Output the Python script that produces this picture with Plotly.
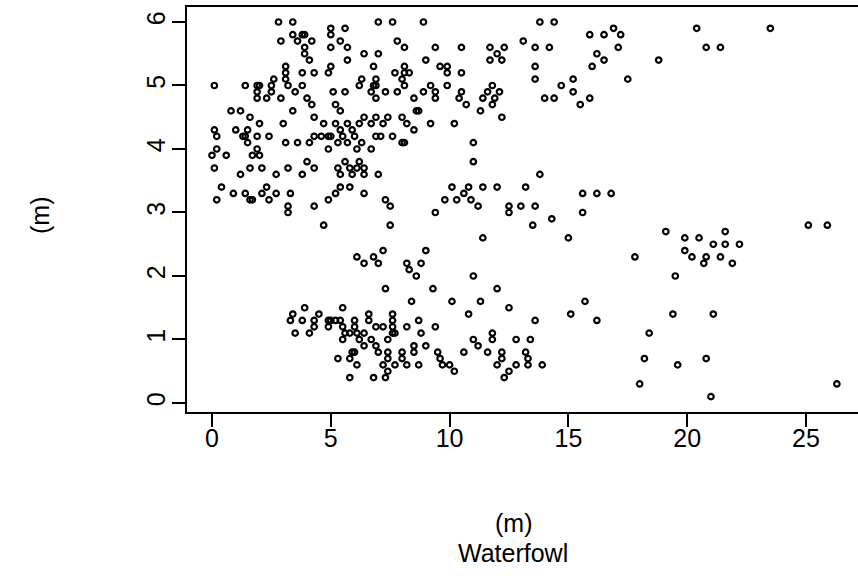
import plotly.graph_objects as go

# Observed positions (m), grouped by area of the survey plot
upper_left = [
    (2.8, 6.0), (3.4, 6.0), (5.0, 5.9), (3.4, 5.8), (3.8, 5.8), (3.9, 5.8), (5.0, 5.8),
    (2.9, 5.7), (3.6, 5.7), (4.2, 5.7), (3.9, 5.6), (5.0, 5.6), (3.9, 5.5), (4.1, 5.4),
    (3.1, 5.3), (5.0, 5.3), (3.1, 5.2), (3.8, 5.2), (4.3, 5.2), (4.9, 5.2), (2.6, 5.1),
    (3.1, 5.1), (0.1, 5.0), (1.4, 5.0), (1.9, 5.0), (2.0, 5.0), (2.5, 5.0), (3.2, 5.0),
    (3.8, 5.0), (1.9, 4.9), (2.5, 4.9), (3.5, 4.9), (5.1, 4.9), (1.9, 4.8), (2.3, 4.8),
    (2.9, 4.8), (4.0, 4.8), (4.2, 4.7), (5.2, 4.7), (0.8, 4.6), (1.2, 4.6), (3.4, 4.6),
    (1.6, 4.5), (4.3, 4.5), (2.0, 4.4), (3.0, 4.4), (4.7, 4.4), (5.2, 4.4), (0.1, 4.3),
    (1.0, 4.3), (1.5, 4.3), (0.2, 4.2), (1.3, 4.2), (1.4, 4.2), (1.9, 4.2), (2.4, 4.2),
    (4.3, 4.2), (4.6, 4.2), (4.9, 4.2), (5.0, 4.2), (1.5, 4.1), (3.1, 4.1), (3.6, 4.1),
    (4.1, 4.1),
]

mid_left = [
    (0.2, 4.0), (0.0, 3.9), (0.6, 3.9), (1.9, 4.0), (1.7, 3.9), (2.0, 3.9), (4.9, 4.0),
    (0.1, 3.7), (1.2, 3.6), (1.6, 3.7), (2.1, 3.7), (2.7, 3.6), (3.2, 3.7), (3.8, 3.6),
    (4.0, 3.8), (4.3, 3.7), (0.4, 3.4), (0.2, 3.2), (0.9, 3.3), (1.4, 3.3), (1.6, 3.2),
    (1.7, 3.2), (2.1, 3.3), (2.3, 3.4), (2.4, 3.2), (2.7, 3.3), (3.3, 3.3), (3.2, 3.1),
    (3.2, 3.0), (4.3, 3.1), (4.9, 3.2), (5.2, 3.3), (4.7, 2.8),
]

low_left = [
    (3.9, 1.5), (3.4, 1.4), (4.5, 1.4), (3.3, 1.3), (3.8, 1.3), (4.3, 1.3), (4.9, 1.3),
    (5.0, 1.3), (4.3, 1.2), (4.9, 1.2), (3.5, 1.1), (4.1, 1.1), (5.3, 0.7),
]

upper_centre = [
    (7.0, 6.0), (7.6, 6.0), (8.9, 6.0), (5.6, 5.9), (5.4, 5.7), (7.8, 5.7), (5.7, 5.6),
    (8.1, 5.6), (9.4, 5.6), (10.5, 5.6), (6.4, 5.5), (7.0, 5.5), (5.7, 5.4), (9.0, 5.4),
    (6.8, 5.3), (8.1, 5.3), (9.6, 5.3), (9.9, 5.3), (7.7, 5.2), (8.1, 5.2), (8.3, 5.2),
    (9.9, 5.2), (10.5, 5.2), (6.3, 5.1), (6.9, 5.1), (8.0, 5.1), (6.2, 5.0), (6.8, 5.0),
    (6.9, 5.0), (8.1, 5.0), (9.2, 5.0), (9.9, 5.0), (5.6, 4.9), (6.7, 4.9), (7.3, 4.9),
    (7.8, 4.9), (8.9, 4.9), (9.4, 4.9), (10.5, 4.9), (6.9, 4.8), (8.5, 4.8), (9.4, 4.8),
    (10.4, 4.8), (10.7, 4.7), (5.4, 4.6), (8.6, 4.6), (8.7, 4.6), (6.4, 4.5), (6.9, 4.5),
    (7.4, 4.5), (8.0, 4.5), (5.7, 4.4), (6.2, 4.4), (6.7, 4.4), (7.2, 4.4), (8.2, 4.4),
    (9.2, 4.4), (10.2, 4.4), (5.4, 4.3), (5.9, 4.3), (8.5, 4.3), (5.5, 4.2), (6.0, 4.2),
    (6.9, 4.2), (7.1, 4.2), (7.6, 4.2), (8.0, 4.1), (8.1, 4.1), (5.3, 4.1), (5.7, 4.1),
    (6.3, 4.1), (6.7, 4.0), (11.0, 4.1),
]

mid_centre = [
    (6.1, 4.0), (5.6, 3.8), (6.2, 3.8), (5.3, 3.7), (5.8, 3.7), (6.1, 3.7), (6.4, 3.7),
    (5.4, 3.6), (5.9, 3.6), (6.4, 3.6), (7.0, 3.6), (5.4, 3.4), (5.8, 3.4), (6.4, 3.3),
    (7.3, 3.2), (7.5, 3.1), (9.4, 3.0), (9.8, 3.2), (10.3, 3.2), (10.1, 3.4), (10.6, 3.3),
    (7.5, 2.8), (7.2, 2.4), (9.0, 2.4), (6.1, 2.3), (6.8, 2.3), (6.4, 2.2), (7.0, 2.2),
    (8.2, 2.2), (8.8, 2.2), (8.3, 2.1), (8.6, 2.0), (11.0, 3.8),
]

low_centre = [
    (7.3, 1.8), (9.3, 1.8), (8.4, 1.6), (10.1, 1.6), (5.5, 1.5), (10.8, 1.4), (6.6, 1.4),
    (7.6, 1.4), (5.2, 1.3), (5.4, 1.3), (6.0, 1.3), (6.6, 1.3), (7.6, 1.3), (8.7, 1.3),
    (5.5, 1.2), (6.0, 1.2), (6.9, 1.2), (7.2, 1.2), (7.6, 1.2), (8.2, 1.2), (9.4, 1.2),
    (5.6, 1.1), (5.8, 1.1), (6.1, 1.1), (6.4, 1.1), (7.6, 1.1), (7.7, 1.1), (8.8, 1.1),
    (5.5, 1.0), (6.2, 1.0), (6.7, 1.0), (7.4, 1.0), (6.4, 0.9), (6.9, 0.9), (8.5, 0.9),
    (9.0, 0.9), (11.0, 1.0), (5.9, 0.8), (6.0, 0.8), (7.0, 0.8), (7.4, 0.8), (8.0, 0.8),
    (8.5, 0.8), (9.5, 0.8), (10.6, 0.8), (5.8, 0.7), (7.4, 0.7), (8.0, 0.7), (9.6, 0.7),
    (6.1, 0.6), (7.2, 0.6), (7.7, 0.6), (8.2, 0.6), (8.7, 0.6), (9.7, 0.6), (10.0, 0.6),
    (7.4, 0.5), (10.2, 0.5), (5.8, 0.4), (6.8, 0.4), (7.3, 0.4),
]

upper_right = [
    (13.8, 6.0), (14.4, 6.0), (13.1, 5.7), (15.9, 5.8), (16.5, 5.8), (11.7, 5.6), (12.3, 5.6),
    (13.6, 5.6), (14.2, 5.6), (12.0, 5.5), (16.2, 5.5), (11.7, 5.4), (12.2, 5.4), (16.5, 5.4),
    (13.6, 5.3), (16.0, 5.3), (13.6, 5.1), (15.2, 5.1), (11.8, 5.0), (14.7, 5.0), (11.6, 4.9),
    (12.1, 4.9), (15.2, 4.9), (11.4, 4.8), (11.9, 4.8), (14.0, 4.8), (14.4, 4.8), (15.9, 4.8),
    (11.8, 4.7), (15.5, 4.7), (11.3, 4.6), (12.2, 4.5), (16.9, 5.9), (17.2, 5.8), (20.4, 5.9),
    (23.5, 5.9), (17.1, 5.6), (20.8, 5.6), (21.4, 5.6), (18.8, 5.4), (17.5, 5.1),
]

mid_right = [
    (13.8, 3.6), (10.8, 3.4), (11.4, 3.4), (12.0, 3.4), (13.2, 3.4), (15.6, 3.3), (16.2, 3.3),
    (10.9, 3.2), (11.2, 3.1), (12.5, 3.1), (12.5, 3.0), (13.0, 3.1), (13.6, 3.1), (15.6, 3.0),
    (14.3, 2.9), (13.5, 2.8), (11.4, 2.6), (15.0, 2.6), (11.0, 2.0), (16.8, 3.3), (25.1, 2.8),
    (25.9, 2.8), (19.1, 2.7), (21.6, 2.7), (19.9, 2.6), (20.5, 2.6), (21.1, 2.5), (21.6, 2.5),
    (22.2, 2.5), (19.9, 2.4), (17.8, 2.3), (20.2, 2.3), (20.8, 2.3), (21.4, 2.3), (20.7, 2.2),
    (21.9, 2.2), (19.5, 2.0),
]

low_right = [
    (12.0, 1.8), (11.3, 1.6), (12.5, 1.5), (15.7, 1.6), (15.1, 1.4), (13.6, 1.3), (16.2, 1.3),
    (11.8, 1.1), (11.8, 1.0), (11.2, 0.9), (12.8, 1.0), (13.4, 1.0), (11.6, 0.8), (12.2, 0.8),
    (13.2, 0.8), (12.2, 0.7), (13.3, 0.7), (12.0, 0.6), (12.8, 0.6), (13.3, 0.6), (13.9, 0.6),
    (12.5, 0.5), (12.3, 0.4), (19.4, 1.4), (21.1, 1.4), (18.4, 1.1), (18.2, 0.7), (19.6, 0.6),
    (20.8, 0.7), (18.0, 0.3), (26.3, 0.3), (21.0, 0.1),
]

x_ticks = [0, 5, 10, 15, 20, 25]
y_ticks = [0, 1, 2, 3, 4, 5, 6]

points = (upper_left + mid_left + low_left + upper_centre + mid_centre
          + low_centre + upper_right + mid_right + low_right)
x_m = [p[0] for p in points]
y_m = [p[1] for p in points]

FONT = "Liberation Sans, Arial, Helvetica, sans-serif"
FS = 25

fig = go.Figure(
    go.Scatter(
        x=x_m, y=y_m, mode="markers",
        marker=dict(symbol="circle-open", size=5.5, color="black",
                    line=dict(width=2.2, color="black")),
        hoverinfo="x+y",
    )
)

W, H = 858, 582
L, R, T, B = 187, 0, 7, 170
pw, ph = W - L - R, H - T - B


def px_to_paper(px, py):
    return (px - L) / pw, (H - B - py) / ph


axis_common = dict(
    showgrid=False, zeroline=False, showline=True, linecolor="black", linewidth=2,
    ticks="outside", ticklen=13, tickwidth=2, tickcolor="black",
    tickfont=dict(family=FONT, size=FS, color="black"),
)

fig.update_layout(
    width=W, height=H,
    margin=dict(l=L, r=R, t=T, b=B, pad=0),
    paper_bgcolor="white", plot_bgcolor="white",
    showlegend=False,
    xaxis=dict(range=[-1.052, 27.19], tickvals=x_ticks, mirror=True,
               ticklabelstandoff=-10, **axis_common),
    yaxis=dict(range=[-0.142, 6.236], tickvals=y_ticks, tickangle=-90, mirror=False,
               ticklabelstandoff=-3, **axis_common),
)

labels = [
    ("(m)", 40, 216, -90),
    ("(m)", 513, 523, 0),
    ("Waterfowl", 513, 553, 0),
]
for text, px, py, ang in labels:
    xp, yp = px_to_paper(px, py)
    fig.add_annotation(
        text=text, x=xp, y=yp, xref="paper", yref="paper", showarrow=False,
        textangle=ang, xanchor="center", yanchor="middle",
        font=dict(family=FONT, size=FS, color="black"),
    )

fig.write_html("out.html")
